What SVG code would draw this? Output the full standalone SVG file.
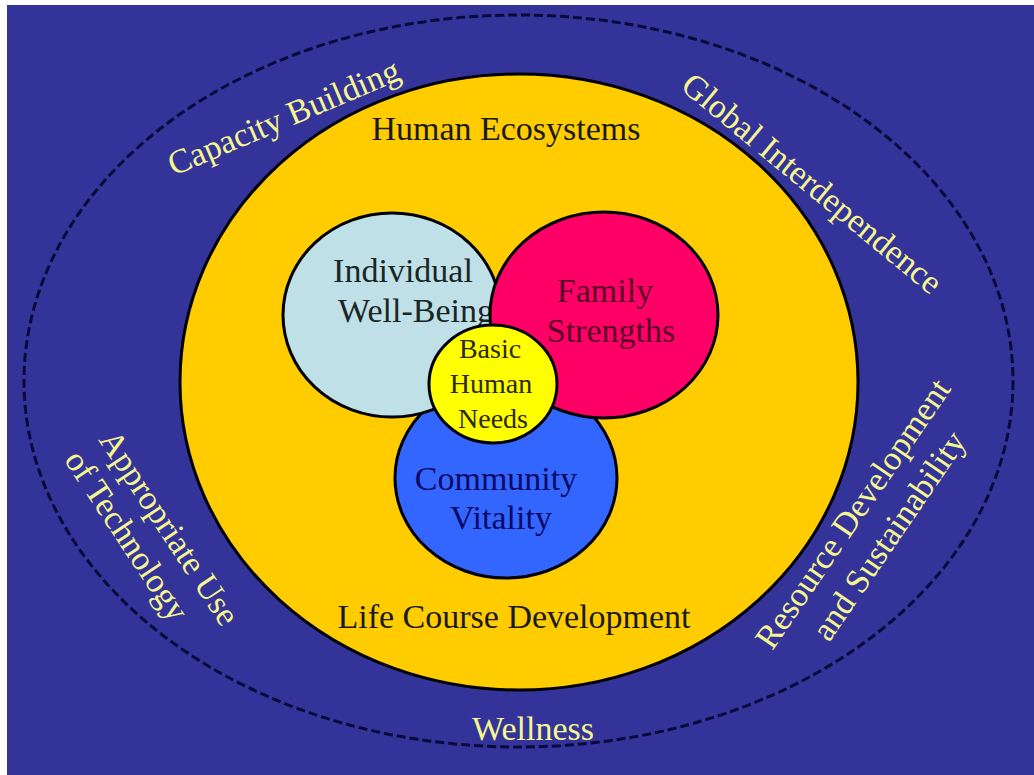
<svg xmlns="http://www.w3.org/2000/svg" width="1034" height="775" viewBox="0 0 1034 775">
<style>
  .t { font-family: "Liberation Serif", "Times New Roman", serif; font-size: 34px; text-anchor: middle; }
  .ring { fill: #F6F690; }
  .dark { fill: #1a1a1a; }
  .c { stroke: #000; stroke-width: 3; }
</style>
<rect x="0" y="0" width="1034" height="775" fill="#ffffff"/>
<rect x="7" y="5" width="1027" height="770" fill="#333399"/>
<g id="outer-ring">
  <ellipse cx="518.5" cy="381" rx="494.5" ry="366" fill="none" stroke="#0a0a3a" stroke-width="3" stroke-dasharray="9 4"/>
  <text class="t ring" transform="translate(288,127.5) rotate(-23)">Capacity Building</text>
  <text class="t ring" transform="translate(805,192) rotate(39.5)">Global Interdependence</text>
  <text class="t ring" transform="translate(160,534) rotate(56.6)">Appropriate Use</text>
  <text class="t ring" transform="translate(117.5,541.6) rotate(56.6)">of Technology</text>
  <text class="t ring" transform="translate(862,520) rotate(-55.6)">Resource Development</text>
  <text class="t ring" transform="translate(898,542) rotate(-55.6)">and Sustainability</text>
  <text class="t ring" x="533" y="740">Wellness</text>
</g>
<g id="human-ecosystems">
  <ellipse class="c" cx="519" cy="382" rx="339" ry="308" fill="#FFCC00"/>
  <text class="t dark" x="506" y="140">Human Ecosystems</text>
  <text class="t dark" x="514" y="628">Life Course Development</text>
</g>
<g id="community-vitality">
  <ellipse class="c" cx="506" cy="478" rx="111" ry="100" fill="#3366FF"/>
  <text class="t" fill="#0a0a66" x="496" y="490">Community</text>
  <text class="t" fill="#0a0a66" x="501" y="529">Vitality</text>
</g>
<g id="individual-well-being">
  <ellipse class="c" cx="392" cy="315" rx="109" ry="102" fill="#BFE0E6"/>
  <text class="t" fill="#1a2626" x="403" y="282">Individual</text>
  <text class="t" fill="#1a2626" x="416" y="322">Well-Being</text>
</g>
<g id="family-strengths">
  <ellipse class="c" cx="604" cy="315" rx="114" ry="103" fill="#FF0066"/>
  <text class="t" fill="#5a0026" x="605" y="302">Family</text>
  <text class="t" fill="#5a0026" x="611" y="342">Strengths</text>
</g>
<g id="basic-human-needs">
  <ellipse class="c" cx="493" cy="384" rx="64" ry="59" fill="#FFFF00"/>
  <text class="t" fill="#2a2a00" style="font-size:28px" x="490" y="358">Basic</text>
  <text class="t" fill="#2a2a00" style="font-size:28px" x="491" y="393">Human</text>
  <text class="t" fill="#2a2a00" style="font-size:28px" x="493" y="428">Needs</text>
</g>
</svg>
